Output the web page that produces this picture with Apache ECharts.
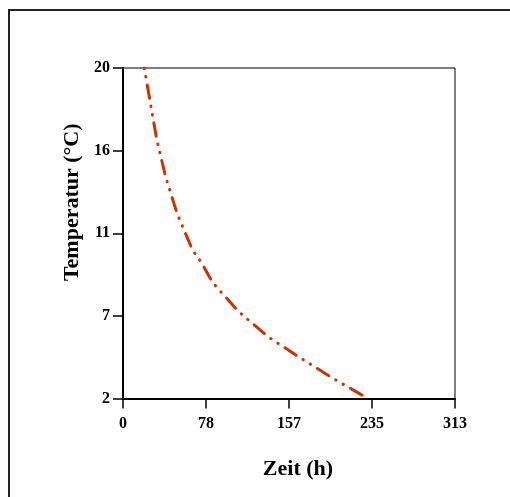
<!DOCTYPE html>
<html>
<head>
    <meta charset="utf-8">
    <script src="https://cdn.jsdelivr.net/npm/echarts@6/dist/echarts.min.js"></script>
    <style>
        html, body { margin: 0; padding: 0; background: #fff; }
        #chart { width: 510px; height: 497px; }
    </style>
</head>
<body>
<div id="chart"></div>
<script>
  // Zeit (h) und Temperatur (°C)
  var zeit = [20, 25.5, 31.8, 40.2, 51.2, 65.7, 74.2, 84.6, 108.7, 136.4, 166.9, 198.3, 231];
  var temperatur = [20, 18.2, 16.1, 14.07, 12.04, 10.07, 9.38, 8.31, 6.75, 5.38, 4.22, 3.09, 2];
  var xTickLabels = ['0', '78', '157', '235', '313'];
  var yTickLabels = ['2', '7', '11', '16', '20'];

  var font = 'Liberation Serif';
  var points = zeit.map(function (x, i) { return [x, temperatur[i]]; });

  var myChart = echarts.init(document.getElementById('chart'));
  var option = {
    animation: false,
    grid: {
      left: 123, top: 68, right: 55, bottom: 98.5,
      show: true, borderColor: '#000', borderWidth: 1
    },
    xAxis: {
      type: 'value',
      min: 0, max: 313, interval: 78.25,
      name: 'Zeit (h)',
      nameLocation: 'middle',
      nameGap: 60,
      nameTextStyle: { fontFamily: font, fontWeight: 'bold', fontSize: 22, color: '#000', padding: [0, 0, 0, 18] },
      axisLine: { lineStyle: { color: '#000', width: 2 } },
      axisTick: { show: true, length: 10, lineStyle: { color: '#000', width: 1.5 } },
      axisLabel: {
        margin: 17, fontFamily: font, fontWeight: 'bold', fontSize: 16, color: '#000',
        formatter: function (v) { return xTickLabels[Math.round(v / 78.25)]; }
      },
      splitLine: { show: false }
    },
    yAxis: {
      type: 'value',
      min: 2, max: 20, interval: 4.5,
      name: 'Temperatur (°C)',
      nameLocation: 'middle',
      nameGap: 40,
      nameTextStyle: { fontFamily: font, fontWeight: 'bold', fontSize: 22, color: '#000', padding: [0, 0, 0, 62] },
      axisLine: { lineStyle: { color: '#000', width: 2 } },
      axisTick: { show: true, length: 10, lineStyle: { color: '#000', width: 1.5 } },
      axisLabel: {
        margin: 13, fontFamily: font, fontWeight: 'bold', fontSize: 16, color: '#000',
        formatter: function (v) { return yTickLabels[Math.round((v - 2) / 4.5)]; }
      },
      splitLine: { show: false }
    },
    series: [{
      type: 'line',
      data: points,
      showSymbol: false,
      lineStyle: {
        color: '#cc3300',
        width: 3,
        type: [13.5, 8, 0.5, 8, 0.5, 8],
        dashOffset: 21.3,
        cap: 'round'
      }
    }],
    graphic: [{
      type: 'rect',
      shape: { x: 9, y: 10, width: 520, height: 510 },
      style: { fill: null, stroke: '#222', lineWidth: 2 },
      silent: true
    }]
  };
  myChart.setOption(option);
</script>
</body>
</html>
